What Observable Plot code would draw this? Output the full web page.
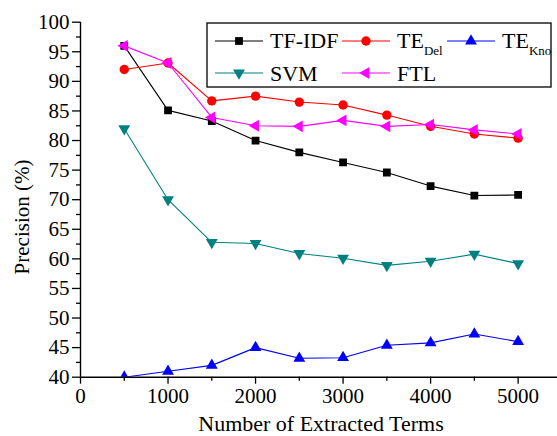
<!DOCTYPE html>
<html><head><meta charset="utf-8">
<script src="https://cdn.jsdelivr.net/npm/d3@7"></script>
<script src="https://cdn.jsdelivr.net/npm/@observablehq/plot@0.6"></script>
<style>body{margin:0;background:#fff}</style>
</head><body><div id="chart"></div>
<script>
const terms = [500, 1000, 1500, 2000, 2500, 3000, 3500, 4000, 4500, 5000];
const tfidf = [96.0, 85.1, 83.3, 80.0, 78.0, 76.3, 74.6, 72.3, 70.7, 70.8];
const teDel = [92.0, 93.1, 86.7, 87.5, 86.5, 86.0, 84.3, 82.4, 81.1, 80.4];
const teKno = [40.0, 41.0, 42.0, 45.0, 43.2, 43.3, 45.4, 45.8, 47.3, 46.0];
const svm   = [82.0, 70.0, 62.8, 62.6, 60.9, 60.1, 58.9, 59.6, 60.8, 59.2];
const ftl   = [96.0, 93.1, 83.9, 82.5, 82.4, 83.4, 82.4, 82.7, 81.8, 81.1];
const yTicks = [40, 45, 50, 55, 60, 65, 70, 75, 80, 85, 90, 95, 100];
const yMinor = [42.5, 47.5, 52.5, 57.5, 62.5, 67.5, 72.5, 77.5, 82.5, 87.5, 92.5, 97.5];
const xTicks = [0, 1000, 2000, 3000, 4000, 5000];
const xMinor = [500, 1500, 2500, 3500, 4500];

const s3 = Math.sqrt(3);
const triDown = {draw(c, size){ const y = -Math.sqrt(size/(s3*3)); c.moveTo(0,-2*y); c.lineTo(s3*y, y); c.lineTo(-s3*y, y); c.closePath(); }};
const triLeft = {draw(c, size){ const y = -Math.sqrt(size/(s3*3)); c.moveTo(2*y,0); c.lineTo(-y, s3*y); c.lineTo(-y, -s3*y); c.closePath(); }};

const series = [
  {name:"TF-IDF", sub:null, vals:tfidf, color:"#000000", symbol:"square", r:4.4},
  {name:"TE", sub:"Del", vals:teDel, color:"#ff0000", symbol:"circle", r:4.7},
  {name:"TE", sub:"Kno", vals:teKno, color:"#0000ff", symbol:"triangle", r:4.4},
  {name:"SVM", sub:null, vals:svm, color:"#008080", symbol:triDown, r:4.4},
  {name:"FTL", sub:null, vals:ftl, color:"#ff00ff", symbol:triLeft, r:4.4}
];

const font = "Liberation Serif, Tinos, Nimbus Roman, Times New Roman, DejaVu Serif, serif";

const marks = [];
for (const s of series) {
  const data = terms.map((t,i) => ({x:t, y:s.vals[i]}));
  marks.push(Plot.line(data, {x:"x", y:"y", stroke:s.color, strokeWidth:1.1, clip:true}));
  marks.push(Plot.dot(data, {x:"x", y:"y", symbol:s.symbol, r:s.r, fill:s.color, stroke:"none", clip:true}));
}

const chart = Plot.plot({
  width:557, height:436,
  marginLeft:80, marginRight:0, marginTop:21.7, marginBottom:59.3,
  x:{domain:[0,5450]},
  y:{domain:[40,100]},
  style:{fontFamily:font, fontSize:"21px", color:"black", background:"white", overflow:"visible"},
  marks:[
    Plot.axisY({ticks:yTicks, tickSize:8, tickPadding:3, label:null, tickFormat:d=>String(d), strokeWidth:1.3, fontFamily:font}),
    Plot.axisY({ticks:yMinor, tickSize:4, label:null, tickFormat:()=>"", strokeWidth:1.3}),
    Plot.axisX({ticks:xTicks, tickSize:7, tickPadding:4, label:null, tickFormat:d=>String(d), strokeWidth:1.3, fontFamily:font}),
    Plot.axisX({ticks:xMinor, tickSize:4, label:null, tickFormat:()=>"", strokeWidth:1.3}),
    ...marks,
    Plot.ruleX([0], {stroke:"black", strokeWidth:1.4}),
    Plot.ruleY([40], {stroke:"black", strokeWidth:1.4})
  ]
});
document.getElementById("chart").appendChild(chart);

const svg = d3.select(chart);
svg.append("text").attr("transform","translate(28.5,217) rotate(-90)")
  .attr("text-anchor","middle").attr("font-family",font).attr("font-size",21).attr("fill","black")
  .text("Precision (%)");
svg.append("text").attr("x",321).attr("y",431)
  .attr("text-anchor","middle").attr("font-family",font).attr("font-size",22).attr("fill","black")
  .text("Number of Extracted Terms");

// legend
const lg = svg.append("g");
lg.append("rect").attr("x",207).attr("y",23).attr("width",344).attr("height",64)
  .attr("fill","white").attr("stroke","black").attr("stroke-width",1.3);
const pos = [[215,41,48],[342,41,48],[447,41,48],[215,73,80.5],[342,73,80.5]];
const symMap = {square:d3.symbolSquare, circle:d3.symbolCircle, triangle:d3.symbolTriangle};
series.forEach((s,i) => {
  const [x0, ly, by] = pos[i];
  lg.append("line").attr("x1",x0).attr("x2",x0+48).attr("y1",ly).attr("y2",ly)
    .attr("stroke",s.color).attr("stroke-width",1.1);
  const type = typeof s.symbol === "string" ? symMap[s.symbol] : s.symbol;
  lg.append("path").attr("transform",`translate(${x0+24},${ly})`)
    .attr("d", d3.symbol().type(type).size(s.r*s.r*Math.PI)()).attr("fill",s.color);
  const t = lg.append("text").attr("x",x0+55).attr("y",by).attr("text-anchor","start")
    .attr("font-family",font).attr("font-size",22).attr("fill","black");
  t.append("tspan").text(s.name);
  if (s.sub) t.append("tspan").attr("font-size",13).attr("dy",7).text(s.sub);
});
</script>
</body></html>
